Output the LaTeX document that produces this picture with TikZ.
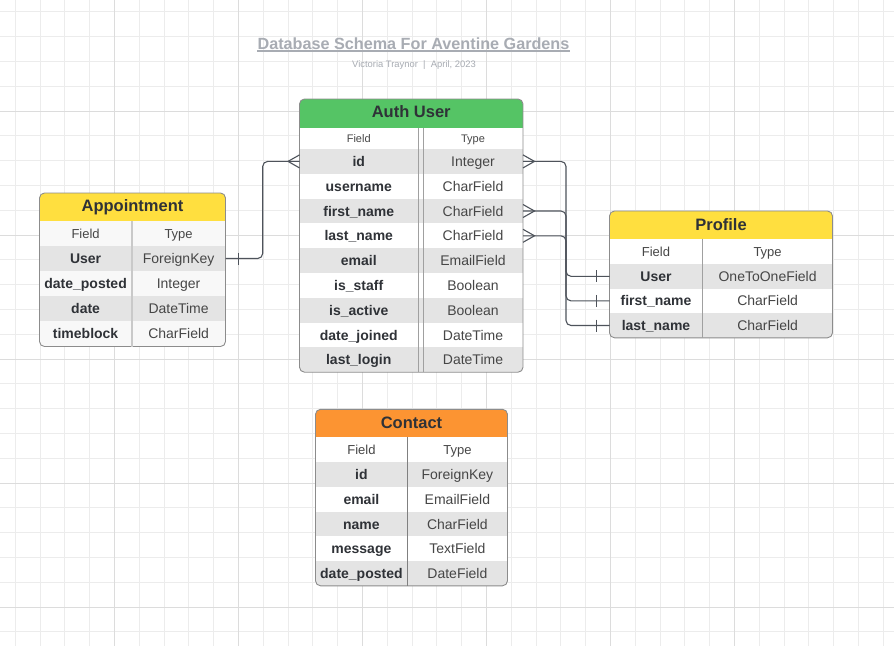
\documentclass[tikz,border=0pt]{standalone}
\usepackage{fontspec}
\setmainfont{Liberation Sans}
\usetikzlibrary{calc}
\definecolor{gridA}{HTML}{ECECEC}
\definecolor{gridB}{HTML}{DCDCDC}
\definecolor{hdrgreen}{HTML}{55C465}
\definecolor{hdryellow}{HTML}{FFDF3F}
\definecolor{hdrorange}{HTML}{FC9432}
\definecolor{rowgray}{HTML}{E4E4E4}
\definecolor{rowoff}{HTML}{F8F8F8}
\definecolor{txtdark}{HTML}{2F3237}
\definecolor{txtmid}{HTML}{464646}
\definecolor{titlecol}{HTML}{A8ACB3}
\definecolor{bordergray}{HTML}{8C8C8C}
\definecolor{divgray}{HTML}{A0A0A0}
\definecolor{linegray}{HTML}{4E535B}
\tikzset{
  gridminor/.style={draw=gridA, line width=0.9pt},
  gridmajor/.style={draw=gridB, line width=0.9pt},
  rowbox/.style={rectangle, inner sep=0pt, outer sep=0pt, draw=none},
  tablebox/.style={rectangle, inner sep=0pt, outer sep=0pt, draw=bordergray, line width=0.9pt, rounded corners=5pt},
  fieldtxt/.style={inner sep=0pt, anchor=base, text=txtdark, font=\fontsize{14}{16}\selectfont\bfseries},
  typetxt/.style={inner sep=0pt, anchor=base, text=txtmid, font=\fontsize{14}{16}\selectfont},
  hdrtxt/.style={inner sep=0pt, anchor=base, text=txtdark, font=\fontsize{16.5}{18}\selectfont\bfseries},
  colhdr/.style={inner sep=0pt, anchor=base, text=txtmid, font=\fontsize{13}{15}\selectfont},
  colhdrsmall/.style={inner sep=0pt, anchor=base, text=txtmid, font=\fontsize{11}{13}\selectfont},
  divline/.style={draw=divgray, line width=0.9pt},
  conn/.style={draw=linegray, line width=1.1pt, rounded corners=5pt},
  connsharp/.style={draw=linegray, line width=1.1pt, sharp corners},
}
\begin{document}
\begin{tikzpicture}[x=1pt,y=-1pt]
\useasboundingbox (0,0) rectangle (894,646);
\fill[white] (0,0) rectangle (894,646);
% grid
\foreach \k in {0,...,35} \draw[gridminor] (15.3+24.8*\k,0) -- (15.3+24.8*\k,646);
\foreach \k in {0,...,25} \draw[gridminor] (0,11.8+24.8*\k) -- (894,11.8+24.8*\k);
\foreach \k in {0,...,6} \draw[gridmajor] (114.5+124*\k-124,0) -- (114.5+124*\k-124,646);
\foreach \k in {0,...,5} \draw[gridmajor] (0,111+124*\k-124) -- (894,111+124*\k-124);

% title
\node[inner sep=0pt, anchor=base, text=titlecol, font=\fontsize{16.2}{18}\selectfont\bfseries] (title) at (413.5,49) {Database Schema For Aventine Gardens};
\draw[titlecol, line width=1.4pt] ($(title.south west)+(0,1.7)$) -- ($(title.south east)+(0,1.7)$);
\node[inner sep=0pt, anchor=base, text=titlecol, font=\fontsize{9.4}{11}\selectfont] (subtitle) at (414,67.5) {Victoria Traynor\ \ |\ \ April, 2023};

% ================= Auth User
\begin{scope}
\clip[rounded corners=5pt] (299.5,99) rectangle (523,372.2);
\fill[hdrgreen] (299.5,99) rectangle (523,128);
\node[rowbox, fill=white, minimum width=223.5, minimum height=21] (au-h) at (411.25,138.5) {};
\foreach \c [count=\i] in {rowgray,white,rowgray,white,rowgray,white,rowgray,white,rowgray}
  \node[rowbox, fill=\c, minimum width=223.5, minimum height=24.8] (au-r\i) at (411.25,136.6+24.8*\i) {};
\end{scope}
\node[tablebox, minimum width=223.5, minimum height=273.2] (au) at (411.25,235.6) {};
\draw[divline] (418,128) -- (418,372.2);
\draw[divline] (423,128) -- (423,372.2);
\node[hdrtxt] (au-title) at (411.25,117.5) {Auth User};
\node[colhdrsmall] (au-hf) at (358.75,142.4) {Field};
\node[colhdrsmall] (au-ht) at (473,142.4) {Type};
\foreach \f/\t [count=\i] in {id/Integer,username/CharField,first\_name/CharField,last\_name/CharField,email/EmailField,is\_staff/Boolean,is\_active/Boolean,date\_joined/DateTime,last\_login/DateTime}{
  \node[fieldtxt] (au-f\i) at (358.75,141.6+24.8*\i) {\f};
  \node[typetxt] (au-t\i) at (473,141.6+24.8*\i) {\t};
}

% ================= Appointment
\begin{scope}
\clip[rounded corners=5pt] (39.5,193) rectangle (225.5,346.5);
\fill[hdryellow] (39.5,193) rectangle (225.5,221);
\node[rowbox, fill=rowoff, minimum width=186, minimum height=25] (ap-h) at (132.5,233.5) {};
\foreach \c [count=\i] in {rowgray,rowoff,rowgray,rowoff}
  \node[rowbox, fill=\c, minimum width=186, minimum height=25] (ap-r\i) at (132.5,233.5+25*\i) {};
\end{scope}
\node[tablebox, minimum width=186, minimum height=153.5] (ap) at (132.5,269.75) {};
\draw[divline, draw=gridB!80!gray, line width=1.6pt] (131.7,221) -- (131.7,346.5);
\node[hdrtxt] (ap-title) at (132.5,211.9) {Appointment};
\node[colhdr] (ap-hf) at (85.6,238.1) {Field};
\node[colhdr] (ap-ht) at (178.6,238.1) {Type};
\foreach \f/\t [count=\i] in {User/ForeignKey,date\_posted/Integer,date/DateTime,timeblock/CharField}{
  \node[fieldtxt] (ap-f\i) at (85.6,238.5+25*\i) {\f};
  \node[typetxt] (ap-t\i) at (178.6,238.5+25*\i) {\t};
}

% ================= Profile
\begin{scope}
\clip[rounded corners=5pt] (609.5,211) rectangle (832.5,337.8);
\fill[hdryellow] (609.5,211) rectangle (832.5,238.7);
\node[rowbox, fill=white, minimum width=223, minimum height=25.3] (pr-h) at (721,251.35) {};
\foreach \c [count=\i] in {rowgray,white,rowgray}
  \node[rowbox, fill=\c, minimum width=223, minimum height=24.6] (pr-r\i) at (721,251.7+24.6*\i) {};
\end{scope}
\node[tablebox, minimum width=223, minimum height=126.8] (pr) at (721,274.4) {};
\draw[divline] (702.7,238.7) -- (702.7,337.8);
\node[hdrtxt] (pr-title) at (721,230.3) {Profile};
\node[colhdr] (pr-hf) at (656,256) {Field};
\node[colhdr] (pr-ht) at (767.6,256) {Type};
\foreach \f/\t [count=\i] in {User/OneToOneField,first\_name/CharField,last\_name/CharField}{
  \node[fieldtxt] (pr-f\i) at (656,256.7+24.6*\i) {\f};
  \node[typetxt] (pr-t\i) at (767.6,256.7+24.6*\i) {\t};
}

% ================= Contact
\begin{scope}
\clip[rounded corners=5pt] (315.5,409.3) rectangle (507.5,585.8);
\fill[hdrorange] (315.5,409.3) rectangle (507.5,437.3);
\node[rowbox, fill=white, minimum width=192, minimum height=25] (co-h) at (411.5,449.8) {};
\foreach \c [count=\i] in {rowgray,white,rowgray,white,rowgray}
  \node[rowbox, fill=\c, minimum width=192, minimum height=24.7] (co-r\i) at (411.5,449.95+24.7*\i) {};
\end{scope}
\node[tablebox, minimum width=192, minimum height=176.5] (co) at (411.5,497.55) {};
\draw[divline, draw=gray] (407.3,437.3) -- (407.3,585.8);
\node[hdrtxt] (co-title) at (411.5,428.2) {Contact};
\node[colhdr] (co-hf) at (361.4,454.4) {Field};
\node[colhdr] (co-ht) at (457.4,454.4) {Type};
\foreach \f/\t [count=\i] in {id/ForeignKey,email/EmailField,name/CharField,message/TextField,date\_posted/DateField}{
  \node[fieldtxt] (co-f\i) at (361.4,454.95+24.7*\i) {\f};
  \node[typetxt] (co-t\i) at (457.4,454.95+24.7*\i) {\t};
}

% ================= connectors
\coordinate (busL) at (262.7,0);
\coordinate (busR) at (566,0);
\draw[conn] (ap-r1.east) -| (busL |- au-r1.west) -- (au-r1.west);
\draw[connsharp] ($(ap-r1.east)+(12.8,-6)$) -- ($(ap-r1.east)+(12.8,6)$);
\draw[connsharp] ($(au-r1.west)+(0,-6.5)$) -- ($(au-r1.west)+(-11.5,0)$) -- ($(au-r1.west)+(0,6.5)$);

\draw[conn] (au-r1.east) -| (busR |- pr-r1.west) -- (pr-r1.west);
\draw[conn] (au-r3.east) -| (busR |- pr-r2.west) -- (pr-r2.west);
\draw[conn] (au-r4.east) -| (busR |- pr-r3.west) -- (pr-r3.west);
\foreach \a in {1,3,4}
  \draw[connsharp] ($(au-r\a.east)+(0,-6.5)$) -- ($(au-r\a.east)+(11.5,0)$) -- ($(au-r\a.east)+(0,6.5)$);
\foreach \b in {1,2,3}
  \draw[connsharp] ($(pr-r\b.west)+(-12.8,-6)$) -- ($(pr-r\b.west)+(-12.8,6)$);
\end{tikzpicture}
\end{document}
